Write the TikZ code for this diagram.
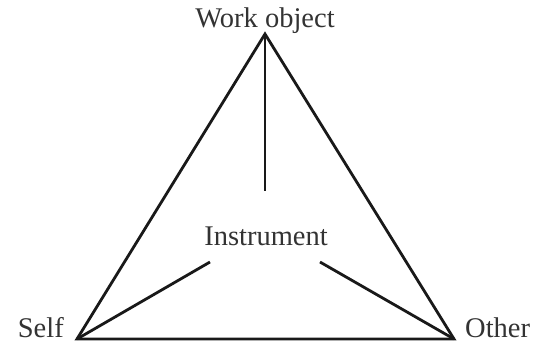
\documentclass[tikz,border=0pt]{standalone}
\usepackage{fontspec}
\setmainfont{Liberation Serif}
\usetikzlibrary{positioning}
\begin{document}
\begin{tikzpicture}[x=1pt,y=-1pt]
\tikzset{
  label/.style={font=\fontsize{28.5}{31}\selectfont,text=black!80,inner sep=0pt},
  edge/.style={line width=2.8pt,draw=black!90,line join=miter},
  spoke/.style={line width=2.8pt,draw=black!90}
}
\useasboundingbox (0,0) rectangle (537,346);
\coordinate (v_top) at (265,34);
\coordinate (v_self) at (77,339);
\coordinate (v_other) at (454,339);
\coordinate (s_top) at (265,191);
\coordinate (s_self) at (210,262);
\coordinate (s_other) at (320,262);
\node[label,anchor=base] (n_work) at (265,27) {Work object};
\node[label,anchor=base] (n_instr) at (266,245) {Instrument};
\node[label,anchor=base east] (n_self) at (64,337) {Self};
\node[label,anchor=base west] (n_other) at (465,337) {Other};
\draw[edge] (v_top) -- (v_self) -- (v_other) -- cycle;
\draw[spoke] (v_top) -- (s_top);
\draw[spoke] (v_self) -- (s_self);
\draw[spoke] (v_other) -- (s_other);
\end{tikzpicture}
\end{document}
